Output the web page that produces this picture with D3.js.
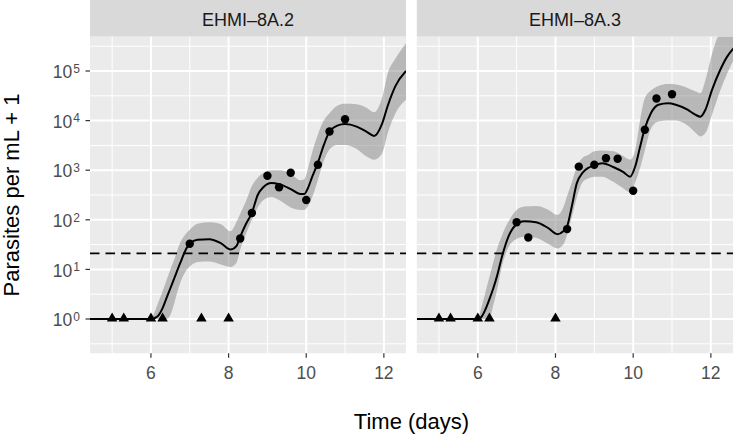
<!DOCTYPE html>
<html><head><meta charset="utf-8">
<script src="https://cdn.jsdelivr.net/npm/d3@7"></script>
<style>body{margin:0;background:#fff}svg{display:block}text{font-family:"Liberation Sans",Arial,sans-serif}</style>
</head><body><svg id="c" width="733" height="434"></svg>
<script>
// ---------------- data ----------------
const panelNames = ["EHMI\u20138A.2", "EHMI\u20138A.3"];
const sampleTimes = [5, 5.3, 6, 6.3, 7, 7.3, 8, 8.3, 8.6, 9, 9.3, 9.6, 10, 10.3, 10.6, 11];
// parasites per mL + 1 (1 = none detected, drawn as triangle)
const obsA = [1, 1, 1, 1, 33, 1, 1, 42, 137, 775, 452, 890, 251, 1290, 6050, 10700];
const obsB = [1, 1, 1, 1, 89, 44, 1, 65, 1180, 1290, 1740, 1700, 386, 6560, 28000, 34000];

// smoothed fit and its band as log10(parasites per mL + 1)
const fitTimeA = [4.43, 6.0, 6.1, 6.2, 6.3, 6.4, 6.5, 6.6, 6.75, 6.9, 7.0, 7.2, 7.5, 7.8, 8.05, 8.2, 8.3, 8.45, 8.6, 8.75, 8.9, 9.1, 9.3, 9.6, 9.85, 9.95, 10.05, 10.15, 10.3, 10.45, 10.6, 10.8, 11.0, 11.3, 11.55, 11.75, 11.95, 12.1, 12.3, 12.57];
const fitLogA  = [0, 0, 0.02, 0.08, 0.22, 0.42, 0.62, 0.82, 1.12, 1.40, 1.53, 1.60, 1.61, 1.53, 1.40, 1.47, 1.66, 1.92, 2.14, 2.50, 2.66, 2.74, 2.72, 2.62, 2.52, 2.52, 2.65, 2.86, 3.15, 3.50, 3.78, 3.90, 3.93, 3.88, 3.78, 3.69, 3.93, 4.30, 4.70, 5.00];
const lowLogA  = [0, 0, 0, 0, 0, 0, 0.08, 0.32, 0.72, 0.97, 1.06, 1.15, 1.16, 1.10, 1.05, 1.13, 1.40, 1.72, 2.00, 2.25, 2.40, 2.46, 2.40, 2.25, 2.20, 2.20, 2.28, 2.45, 2.80, 3.18, 3.42, 3.51, 3.51, 3.43, 3.28, 3.21, 3.33, 3.75, 4.15, 4.42];
const highLogA = [0, 0, 0.15, 0.36, 0.56, 0.78, 1.00, 1.20, 1.53, 1.72, 1.80, 1.92, 1.95, 1.91, 1.77, 1.95, 2.12, 2.38, 2.68, 2.85, 2.95, 3.00, 3.00, 2.93, 2.80, 2.82, 3.05, 3.35, 3.72, 4.00, 4.15, 4.30, 4.34, 4.33, 4.26, 4.17, 4.45, 4.95, 5.25, 5.56];

const fitTimeB = [4.43, 6.0, 6.1, 6.2, 6.3, 6.4, 6.5, 6.62, 6.8, 6.96, 7.2, 7.5, 7.8, 8.05, 8.2, 8.3, 8.42, 8.55, 8.7, 8.85, 9.0, 9.2, 9.5, 9.75, 9.92, 10.05, 10.18, 10.3, 10.45, 10.65, 10.9, 11.1, 11.4, 11.6, 11.73, 11.86, 12.03, 12.24, 12.42, 12.59];
const fitLogB  = [0, 0, 0.05, 0.20, 0.40, 0.62, 0.88, 1.25, 1.68, 1.88, 1.97, 1.95, 1.84, 1.71, 1.77, 1.87, 2.27, 2.74, 2.95, 3.05, 3.10, 3.14, 3.06, 2.96, 2.87, 3.07, 3.48, 3.84, 4.14, 4.32, 4.35, 4.32, 4.22, 4.12, 4.08, 4.22, 4.62, 5.02, 5.29, 5.46];
const lowLogB  = [0, 0, 0, 0, 0, 0.28, 0.60, 1.06, 1.46, 1.60, 1.66, 1.64, 1.52, 1.42, 1.50, 1.70, 2.05, 2.45, 2.76, 2.84, 2.87, 2.87, 2.76, 2.63, 2.55, 2.75, 3.05, 3.40, 3.82, 3.98, 4.00, 4.00, 3.90, 3.76, 3.68, 3.75, 4.12, 4.60, 4.95, 5.23];
const highLogB = [0, 0, 0.25, 0.55, 0.85, 1.15, 1.42, 1.68, 1.98, 2.17, 2.27, 2.28, 2.21, 2.10, 2.25, 2.48, 2.75, 3.07, 3.25, 3.31, 3.38, 3.40, 3.38, 3.28, 3.21, 3.40, 4.02, 4.45, 4.60, 4.70, 4.74, 4.73, 4.66, 4.59, 4.55, 4.82, 5.35, 5.80, 6.00, 6.10];

const detectionLimit = 21;
const xDomain = [4.43, 12.57];
const yDomain = [0.2035, 4.92e5];
const xMajorTicks = [6, 8, 10, 12];
const xMinorTicks = [5, 7, 9, 11];
const yMajorExp = [0, 1, 2, 3, 4, 5];
const yMinorExp = [-0.5, 0.5, 1.5, 2.5, 3.5, 4.5, 5.5];

// ---------------- layout ----------------
const svg = d3.select("#c");
const stripTop = 0, plotTop = 36.7, plotBottom = 353.3;
const panelRanges = [[90, 406], [416.8, 733]];
const y = d3.scaleLog().domain(yDomain).range([plotBottom, plotTop]);

const panels = [
  {name: panelNames[0], obs: obsA, t: fitTimeA, fit: fitLogA, lo: lowLogA, hi: highLogA},
  {name: panelNames[1], obs: obsB, t: fitTimeB, fit: fitLogB, lo: lowLogB, hi: highLogB}
];

panels.forEach((p, i) => {
  const [x0, x1] = panelRanges[i];
  const x = d3.scaleLinear().domain(xDomain).range([x0, x1]);
  const g = svg.append("g");
  const clipId = "clip" + i;
  svg.append("clipPath").attr("id", clipId).append("rect")
    .attr("x", x0).attr("y", plotTop).attr("width", x1 - x0).attr("height", plotBottom - plotTop);

  // strip
  g.append("rect").attr("x", x0).attr("y", stripTop).attr("width", x1 - x0).attr("height", plotTop - stripTop).attr("fill", "#d9d9d9");
  g.append("text").attr("x", (x0 + x1) / 2).attr("y", 26).attr("text-anchor", "middle")
    .attr("font-size", 18).attr("fill", "#1a1a1a").text(p.name);

  // panel background
  g.append("rect").attr("x", x0).attr("y", plotTop).attr("width", x1 - x0).attr("height", plotBottom - plotTop).attr("fill", "#ebebeb");

  // grid
  const grid = g.append("g").attr("stroke", "#fff");
  grid.selectAll(".ymin").data(yMinorExp).join("line")
    .attr("x1", x0).attr("x2", x1).attr("y1", d => y(Math.pow(10, d))).attr("y2", d => y(Math.pow(10, d))).attr("stroke-width", 1);
  grid.selectAll(".xmin").data(xMinorTicks).join("line")
    .attr("y1", plotTop).attr("y2", plotBottom).attr("x1", d => x(d)).attr("x2", d => x(d)).attr("stroke-width", 1);
  grid.selectAll(".ymaj").data(yMajorExp).join("line")
    .attr("x1", x0).attr("x2", x1).attr("y1", d => y(Math.pow(10, d))).attr("y2", d => y(Math.pow(10, d))).attr("stroke-width", 2);
  grid.selectAll(".xmaj").data(xMajorTicks).join("line")
    .attr("y1", plotTop).attr("y2", plotBottom).attr("x1", d => x(d)).attr("x2", d => x(d)).attr("stroke-width", 2);

  const data = p.t.map((t, k) => ({t, fit: Math.pow(10, p.fit[k]), lo: Math.pow(10, p.lo[k]), hi: Math.pow(10, p.hi[k])}));
  const clipped = g.append("g").attr("clip-path", `url(#${clipId})`);

  // ribbon
  clipped.append("path").datum(data)
    .attr("d", d3.area().x(d => x(d.t)).y0(d => y(d.lo)).y1(d => y(d.hi)).curve(d3.curveMonotoneX))
    .attr("fill", "#7a7a7a").attr("fill-opacity", 0.45);

  // fit line
  clipped.append("path").datum(data)
    .attr("d", d3.line().x(d => x(d.t)).y(d => y(d.fit)).curve(d3.curveMonotoneX))
    .attr("fill", "none").attr("stroke", "#000").attr("stroke-width", 2);

  // detection limit
  clipped.append("line").attr("x1", x0).attr("x2", x1)
    .attr("y1", y(detectionLimit)).attr("y2", y(detectionLimit))
    .attr("stroke", "#000").attr("stroke-width", 1.7).attr("stroke-dasharray", "9.5,6");

  // observations
  const obs = sampleTimes.map((t, k) => ({t, v: p.obs[k]}));
  clipped.selectAll(".pt").data(obs.filter(d => d.v > 1)).join("circle")
    .attr("cx", d => x(d.t)).attr("cy", d => y(d.v)).attr("r", 4.2).attr("fill", "#000");
  clipped.selectAll(".tri").data(obs.filter(d => d.v === 1)).join("path")
    .attr("d", d3.symbol(d3.symbolTriangle, 48))
    .attr("transform", d => `translate(${x(d.t)},${y(d.v) - 0.5})`).attr("fill", "#000");

  // x axis
  const ax = g.append("g");
  ax.selectAll("line").data(xMajorTicks).join("line")
    .attr("x1", d => x(d)).attr("x2", d => x(d)).attr("y1", plotBottom).attr("y2", plotBottom + 4.5)
    .attr("stroke", "#333").attr("stroke-width", 1.2);
  ax.selectAll("text").data(xMajorTicks).join("text")
    .attr("x", d => x(d)).attr("y", 378.5).attr("text-anchor", "middle")
    .attr("font-size", 17.5).attr("fill", "#4d4d4d").text(d => d);

  // y axis (first panel only)
  if (i === 0) {
    const ay = g.append("g");
    ay.selectAll("line").data(yMajorExp).join("line")
      .attr("x1", x0 - 4.5).attr("x2", x0).attr("y1", d => y(Math.pow(10, d))).attr("y2", d => y(Math.pow(10, d)))
      .attr("stroke", "#333").attr("stroke-width", 1.2);
    const lbl = ay.selectAll("text").data(yMajorExp).join("text")
      .attr("x", 80).attr("y", d => y(Math.pow(10, d)) + 7.2).attr("text-anchor", "end")
      .attr("font-size", 17.5).attr("fill", "#4d4d4d");
    lbl.append("tspan").text("10");
    lbl.append("tspan").attr("dx", 1).attr("dy", -5.5).attr("font-size", 12).text(d => d);
  }
});

// axis titles
svg.append("text").attr("x", (panelRanges[0][0] + panelRanges[1][1]) / 2).attr("y", 429)
  .attr("text-anchor", "middle").attr("font-size", 22).attr("fill", "#000").text("Time (days)");
svg.append("text").attr("transform", `translate(18.5,${(plotTop + plotBottom) / 2}) rotate(-90)`)
  .attr("text-anchor", "middle").attr("font-size", 22).attr("fill", "#000").text("Parasites per mL + 1");
</script></body></html>
